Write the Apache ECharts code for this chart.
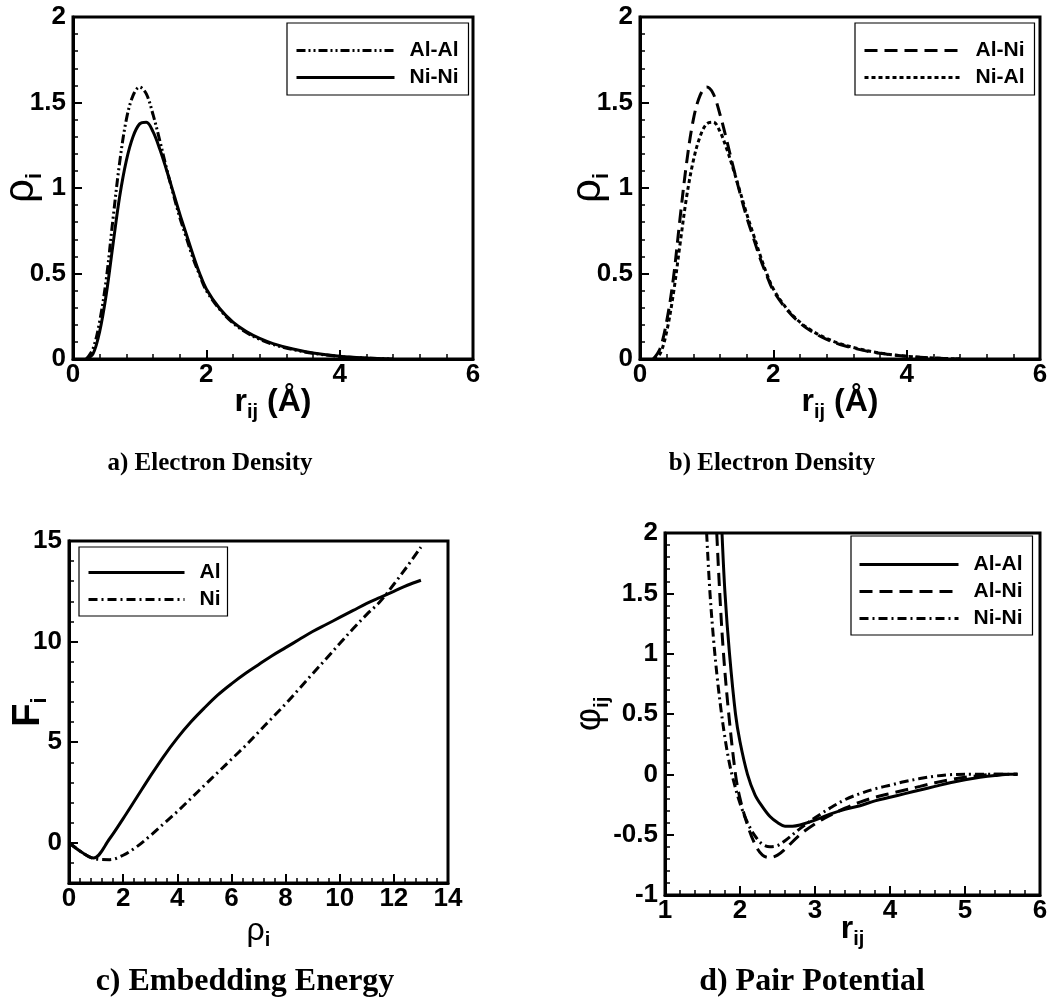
<!DOCTYPE html>
<html>
<head>
<meta charset="utf-8">
<script src="https://cdn.jsdelivr.net/npm/echarts@6/dist/echarts.min.js"></script>
<style>
  html, body { margin: 0; padding: 0; background: #fff; }
  #chart { width: 1054px; height: 1002px; }
</style>
</head>
<body>
<div id="chart"></div>
<script>
// (a) electron density of the like pairs, rho(r)
const densR    = [0.2, 0.3, 0.4, 0.5, 0.6, 0.7, 0.8, 0.9, 1.0, 1.1, 1.2, 1.3, 1.4, 1.5, 1.6, 1.7, 1.8, 1.9, 2.0, 2.2, 2.4, 2.6, 2.8, 3.0, 3.3, 3.6, 4.0, 4.4, 4.8];
const densAlAl = [0, 0.06, 0.22, 0.47, 0.82, 1.15, 1.40, 1.54, 1.59, 1.55, 1.43, 1.28, 1.12, 0.97, 0.83, 0.71, 0.59, 0.49, 0.40, 0.29, 0.21, 0.155, 0.115, 0.085, 0.055, 0.033, 0.015, 0.005, 0];
const densNiNi = [0, 0.03, 0.16, 0.38, 0.67, 0.95, 1.16, 1.30, 1.375, 1.385, 1.33, 1.23, 1.11, 0.98, 0.85, 0.73, 0.61, 0.50, 0.41, 0.295, 0.215, 0.16, 0.12, 0.09, 0.058, 0.035, 0.016, 0.006, 0];

// (b) electron density of the mixed pairs
const crossR   = [0.2, 0.3, 0.4, 0.5, 0.6, 0.7, 0.8, 0.9, 1.0, 1.1, 1.2, 1.3, 1.4, 1.5, 1.6, 1.7, 1.8, 1.9, 2.0, 2.2, 2.4, 2.6, 2.8, 3.0, 3.3, 3.6, 4.0, 4.4, 4.8];
const densAlNi = [0, 0.06, 0.22, 0.47, 0.82, 1.15, 1.40, 1.54, 1.59, 1.55, 1.43, 1.28, 1.12, 0.97, 0.83, 0.71, 0.59, 0.49, 0.40, 0.29, 0.21, 0.155, 0.115, 0.085, 0.055, 0.033, 0.016, 0.006, 0];
const densNiAl = [0, 0.03, 0.16, 0.38, 0.67, 0.95, 1.16, 1.30, 1.375, 1.385, 1.33, 1.23, 1.11, 0.98, 0.85, 0.73, 0.61, 0.50, 0.41, 0.295, 0.215, 0.16, 0.12, 0.09, 0.058, 0.035, 0.016, 0.006, 0];

// (c) embedding energy F(rho)
const embRho = [0, 0.5, 0.9, 1.5, 2, 2.5, 3, 3.5, 4, 4.5, 5, 5.5, 6, 6.5, 7, 7.5, 8, 8.5, 9, 9.5, 10, 10.5, 11, 11.5, 12, 12.5, 13];
const embAl  = [0, -0.5, -0.76, 0.2, 1.2, 2.25, 3.3, 4.3, 5.2, 6.0, 6.7, 7.35, 7.9, 8.4, 8.85, 9.3, 9.7, 10.1, 10.5, 10.85, 11.2, 11.55, 11.9, 12.2, 12.5, 12.8, 13.05];
const embNi  = [0, -0.5, -0.78, -0.84, -0.62, -0.2, 0.35, 0.95, 1.55, 2.2, 2.85, 3.5, 4.15, 4.8, 5.5, 6.2, 6.9, 7.65, 8.4, 9.15, 9.9, 10.65, 11.35, 12.0, 12.85, 13.75, 14.7];
const embMajorTicks = [0, 5, 10, 15];

// (d) pair potentials phi(r)
const pairAlAlR   = [1.76, 1.8, 1.86, 1.94, 2.0, 2.1, 2.2, 2.3, 2.4, 2.5, 2.6, 2.7, 2.8, 3.0, 3.2, 3.4, 3.6, 3.8, 4.0, 4.2, 4.4, 4.6, 4.8, 5.0, 5.2, 5.4, 5.6, 5.7];
const pairAlAlPhi = [2.0, 1.5, 1.0, 0.5, 0.27, 0.0, -0.17, -0.27, -0.35, -0.4, -0.43, -0.43, -0.42, -0.38, -0.33, -0.29, -0.26, -0.22, -0.19, -0.16, -0.13, -0.1, -0.07, -0.045, -0.025, -0.01, 0, 0];
const pairAlNiR   = [1.69, 1.73, 1.78, 1.85, 1.94, 2.0, 2.1, 2.2, 2.3, 2.4, 2.5, 2.6, 2.8, 3.0, 3.2, 3.4, 3.6, 3.8, 4.0, 4.2, 4.4, 4.6, 4.8, 5.0, 5.2, 5.4, 5.7];
const pairAlNiPhi = [2.0, 1.5, 1.0, 0.5, 0.0, -0.2, -0.42, -0.58, -0.67, -0.69, -0.67, -0.62, -0.5, -0.41, -0.34, -0.28, -0.23, -0.19, -0.16, -0.13, -0.1, -0.07, -0.045, -0.025, -0.01, 0, 0];
const pairNiNiR   = [1.555, 1.6, 1.65, 1.7, 1.75, 1.8, 1.85, 1.9, 2.0, 2.1, 2.2, 2.3, 2.4, 2.5, 2.6, 2.8, 3.0, 3.2, 3.4, 3.6, 3.8, 4.0, 4.2, 4.4, 4.6, 4.8, 5.0, 5.7];
const pairNiNiPhi = [2.0, 1.5, 1.1, 0.78, 0.52, 0.3, 0.12, -0.02, -0.24, -0.4, -0.51, -0.58, -0.6, -0.59, -0.55, -0.45, -0.36, -0.28, -0.21, -0.16, -0.12, -0.09, -0.06, -0.035, -0.015, -0.003, 0, 0];

const SANS = '"Liberation Sans", Arial, Helvetica, sans-serif';
const SERIF = '"Liberation Serif", "Times New Roman", serif';
const INK = '#000';

const zip = (xs, ys) => xs.map((x, i) => [x, ys[i]]);

// dash patterns
const SOLID = 'solid';
const DASH = [13, 7];
const DOT = [4, 3];
const DASH_DOT = [9, 4, 2, 4];
const DASH_DOT_DOT = [9, 3, 2, 3, 2, 3];

function curve(name, xi, yi, data, dash) {
  return {
    name: name, type: 'line', xAxisIndex: xi, yAxisIndex: yi,
    data: data, symbol: 'none', smooth: 0.35, clip: true,
    itemStyle: { color: INK },
    lineStyle: { color: INK, width: 3, type: dash, cap: 'butt' },
    emphasis: { disabled: true }, silent: true
  };
}

const labelStyle = { color: INK, fontFamily: SANS, fontWeight: 'bold', fontSize: 26 };

function valueAxis(gridIndex, min, max, interval, minorSplit, margin, extra) {
  return Object.assign({
    type: 'value', gridIndex: gridIndex, min: min, max: max, interval: interval,
    axisLine: { show: true, onZero: false, lineStyle: { color: INK, width: 3 } },
    axisTick: { show: true, inside: true, length: 9, lineStyle: { color: INK, width: 2 } },
    minorTick: { show: true, splitNumber: minorSplit, length: 5, lineStyle: { color: INK, width: 1.5 } },
    splitLine: { show: false },
    axisLabel: Object.assign({ margin: margin, showMinLabel: true, showMaxLabel: true }, labelStyle)
  }, extra || {});
}

// rich styles for the axis titles (base glyph + bold subscript)
const nameRich = {
  r:  { fontFamily: SANS, fontWeight: 'bold', fontSize: 32, lineHeight: 40, color: INK },
  F:  { fontFamily: SANS, fontWeight: 'bold', fontSize: 38, lineHeight: 44, color: INK },
  g:  { fontFamily: SANS, fontWeight: 'normal', fontSize: 42, lineHeight: 50, color: INK },
  h:  { fontFamily: SANS, fontWeight: 'normal', fontSize: 32, lineHeight: 38, color: INK },
  p:  { fontFamily: SANS, fontWeight: 'normal', fontSize: 36, lineHeight: 44, color: INK },
  s:  { fontFamily: SANS, fontWeight: 'bold', fontSize: 20, lineHeight: 20, verticalAlign: 'bottom', color: INK },
  t:  { fontFamily: SANS, fontWeight: 'bold', fontSize: 22, lineHeight: 22, verticalAlign: 'bottom', color: INK }
};

function nameOpts(text, gap, rotate) {
  return {
    name: text, nameLocation: 'middle', nameGap: gap, nameRotate: rotate,
    nameMoveOverlap: false,
    nameTextStyle: { rich: nameRich }
  };
}

function legendBox(names, left, top, padding, itemWidth) {
  return {
    data: names, orient: 'vertical', left: left, top: top,
    padding: padding, itemGap: 6, itemWidth: itemWidth, itemHeight: 20,
    borderColor: INK, borderWidth: 1.2, backgroundColor: '#fff',
    selectedMode: false,
    itemStyle: { opacity: 0 },
    lineStyle: { width: 3 },
    formatter: n => n.split(' ')[1],
    textStyle: { color: INK, fontFamily: SANS, fontWeight: 'bold', fontSize: 21, lineHeight: 20, padding: [0, 0, 0, 10] }
  };
}

function panelGrid(left, top, width, height) {
  return { left: left, top: top, width: width, height: height, outerBoundsMode: 'none', containLabel: false,
           show: true, borderColor: INK, borderWidth: 3 };
}

function caption(text, x, y, size) {
  return { type: 'text', x: x, y: y,
           style: { text: text, fill: INK, font: 'bold ' + size + 'px ' + SERIF, align: 'center', verticalAlign: 'middle' } };
}

const option = {
  animation: false,
  backgroundColor: '#fff',
  grid: [
    panelGrid(73, 17, 400, 342),
    panelGrid(640, 17, 400, 342),
    panelGrid(69, 541, 379, 342),
    panelGrid(665, 533, 375, 362)
  ],
  xAxis: [
    valueAxis(0, 0, 6, 2, 5, 3, nameOpts('{r|r}{s|ij}{r| (Å)}', 23, 0)),
    valueAxis(1, 0, 6, 2, 5, 3, nameOpts('{r|r}{s|ij}{r| (Å)}', 23, 0)),
    valueAxis(2, 0, 14, 2, 5, 3, nameOpts('{h|ρ}{s|i}', 29, 0)),
    valueAxis(3, 1, 6, 1, 5, 3, nameOpts('{r|r}{s|ij}', 14, 0))
  ],
  yAxis: [
    valueAxis(0, 0, 2, 0.5, 5, 7, nameOpts('{g|ρ}{t|i}', 27, 90)),
    valueAxis(1, 0, 2, 0.5, 5, 7, nameOpts('{g|ρ}{t|i}', 27, 90)),
    // panel c: one short tick per unit
    valueAxis(2, -2, 15, 1, 1, 7, {
      position: 'left', offset: 0,
      minorTick: { show: false },
      axisTick: { show: true, inside: true, length: 5, lineStyle: { color: INK, width: 1.5 } },
      axisLabel: { show: false }
    }),
    // panel c: long ticks and labels every five units
    valueAxis(2, -2, 15, 1, 1, 7, Object.assign({
      position: 'left', offset: 0,
      minorTick: { show: false },
      axisTick: { show: true, inside: true, length: 9, customValues: embMajorTicks, lineStyle: { color: INK, width: 2 } },
      axisLabel: Object.assign({ margin: 7, customValues: embMajorTicks }, labelStyle)
    }, nameOpts('{F|F}{t|i}', 18, 90))),
    valueAxis(3, -1, 2, 0.5, 5, 7, nameOpts('{p|φ}{s|ij}', 53, 90))
  ],
  legend: [
    legendBox(['rho Al-Al', 'rho Ni-Ni'], 287, 23, [17, 10, 7, 8], 98),
    legendBox(['rhoX Al-Ni', 'rhoX Ni-Al'], 855, 23, [17, 10, 7, 8], 96),
    legendBox(['F Al', 'F Ni'], 79, 547, [15, 7, 6, 8], 96),
    legendBox(['phi Al-Al', 'phi Al-Ni', 'phi Ni-Ni'], 851, 536, [18, 10, 6, 7], 99)
  ],
  series: [
    curve('rho Al-Al', 0, 0, zip(densR, densAlAl), DASH_DOT_DOT),
    curve('rho Ni-Ni', 0, 0, zip(densR, densNiNi), SOLID),
    curve('rhoX Al-Ni', 1, 1, zip(crossR, densAlNi), DASH),
    curve('rhoX Ni-Al', 1, 1, zip(crossR, densNiAl), DOT),
    curve('F Al', 2, 3, zip(embRho, embAl), SOLID),
    curve('F Ni', 2, 3, zip(embRho, embNi), DASH_DOT),
    curve('phi Al-Al', 3, 4, zip(pairAlAlR, pairAlAlPhi), SOLID),
    curve('phi Al-Ni', 3, 4, zip(pairAlNiR, pairAlNiPhi), DASH),
    curve('phi Ni-Ni', 3, 4, zip(pairNiNiR, pairNiNiPhi), DASH_DOT)
  ],
  graphic: [
    caption('a) Electron Density', 210, 464, 25),
    caption('b) Electron Density', 772, 464, 25),
    caption('c) Embedding Energy', 245, 982, 32),
    caption('d) Pair Potential', 812, 982, 32)
  ]
};

const chart = echarts.init(document.getElementById('chart'), null, { renderer: 'canvas' });
chart.setOption(option);
</script>
</body>
</html>
